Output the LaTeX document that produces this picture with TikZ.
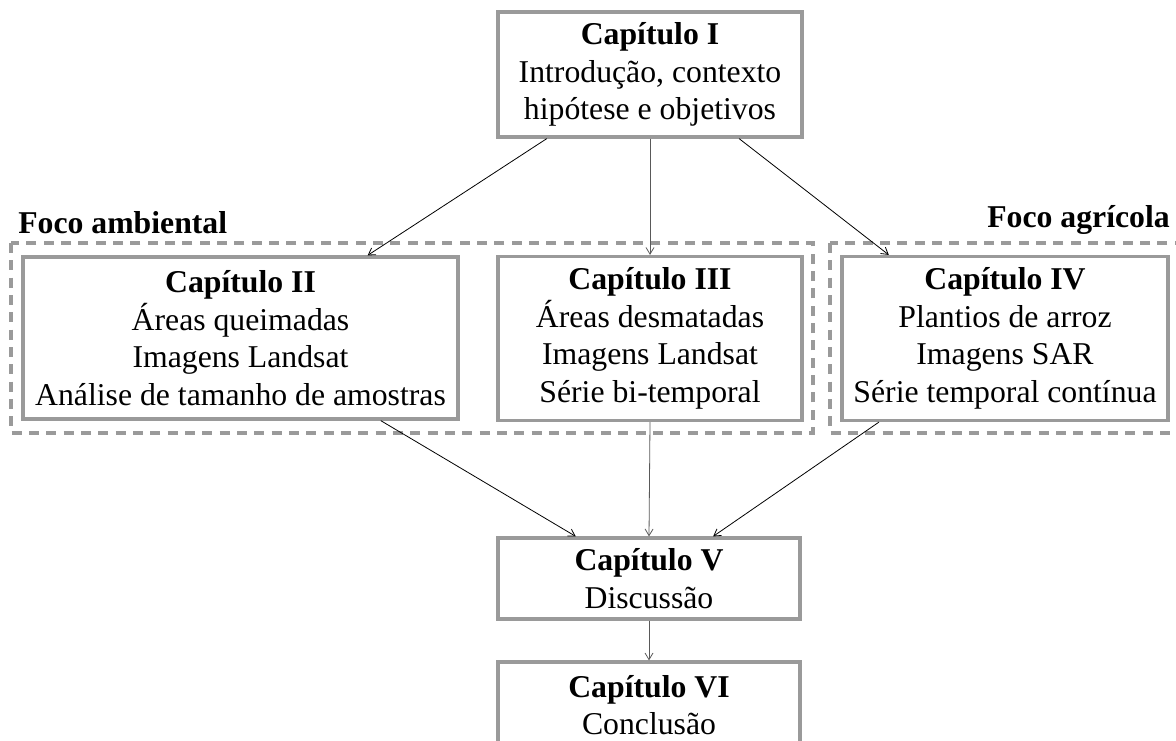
\documentclass[tikz,border=0pt]{standalone}
\usepackage{fontspec}
\setmainfont{Liberation Serif}
\usetikzlibrary{arrows.meta,calc}
\definecolor{boxgray}{HTML}{9A9A9A}
\begin{document}
\begin{tikzpicture}[x=0.75pt,y=-0.75pt,
  chap/.style={draw=boxgray,line width=2.4pt,fill=white,align=center,inner sep=0pt,
    font=\fontsize{23.8}{28.2}\selectfont},
  frame/.style={draw=boxgray,line width=2.4pt,dash pattern=on 7.5pt off 5.5pt},
  lbl/.style={font=\fontsize{23.8}{28}\selectfont\bfseries,inner sep=0pt},
  conn/.style={-{Straight Barb[length=5pt,width=6pt]},line width=0.6pt,black},
  vconn/.style={conn,black!65}]
\useasboundingbox (0,0) rectangle (1176,740);
% dashed groups
\draw[frame] (11,243) rectangle (813,433);
\draw[frame] (830,243) rectangle (1190,433);
\node[lbl,anchor=base west] (fa) at (18,233) {Foco ambiental};
\node[lbl,anchor=base east] (fg) at (1170,227) {Foco agrícola};
% chapters
\node[chap,minimum width=228pt,minimum height=93.75pt] (b1) at (650,74.5)
  {\textbf{Capítulo I}\\Introdução, contexto\\hipótese e objetivos};
\node[chap,minimum width=326.25pt,minimum height=121.5pt] (b2) at (240.5,338)
  {\textbf{Capítulo II}\\Áreas queimadas\\Imagens Landsat\\Análise de tamanho de amostras};
\node[chap,minimum width=228pt,minimum height=123pt] (b3) at (650,338.5)
  {\textbf{Capítulo III}\\Áreas desmatadas\\Imagens Landsat\\Série bi-temporal};
\node[chap,minimum width=244.5pt,minimum height=123pt] (b4) at (1005,338.5)
  {\textbf{Capítulo IV}\\Plantios de arroz\\Imagens SAR\\Série temporal contínua};
\node[chap,minimum width=226.5pt,minimum height=60.75pt] (b5) at (649,578.5)
  {\textbf{Capítulo V}\\Discussão};
\node[chap,minimum width=226.5pt,minimum height=64.5pt] (b6) at (649,705)
  {\textbf{Capítulo VI}\\Conclusão};
% connectors
\draw[conn] ($(b1.south west)!0.164!(b1.south east)$) -- ($(b2.north west)!0.79!(b2.north east)$);
\draw[vconn] (b1.south) -- (b3.north);
\draw[conn] ($(b1.south west)!0.79!(b1.south east)$) -- ($(b4.north west)!0.147!(b4.north east)$);
\draw[conn] ($(b2.south west)!0.82!(b2.south east)$) -- ($(b5.north west)!0.26!(b5.north east)$);
\draw[vconn] (b3.south) -- (b5.north);
\draw[conn] ($(b4.south west)!0.117!(b4.south east)$) -- ($(b5.north west)!0.71!(b5.north east)$);
\draw[vconn] (b5.south) -- (b6.north);
\end{tikzpicture}
\end{document}
